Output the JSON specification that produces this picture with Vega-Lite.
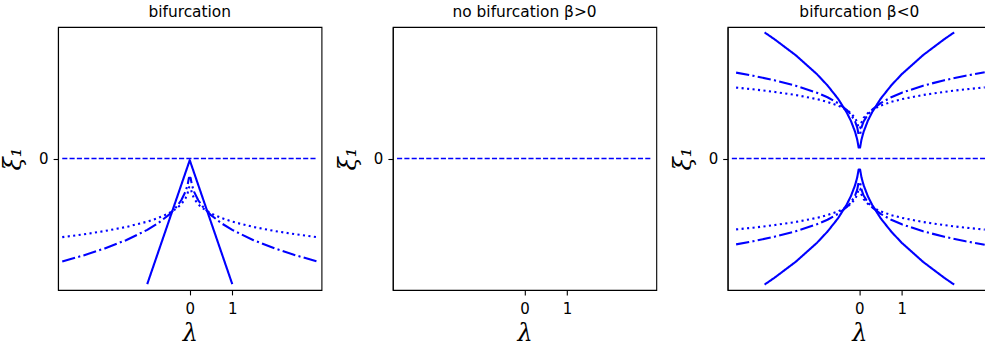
{
  "$schema": "https://vega.github.io/schema/vega-lite/v6.json",
  "background": "white",
  "padding": {"left": 1, "top": 4, "right": 0, "bottom": 4},
  "bounds": "flush",
  "spacing": 70.8,
  "datasets": {
    "zero": [{"x": -3, "y": 0}, {"x": 3, "y": 0}],
    "p1": [
      {"c": "s", "s": "solid", "x": -1, "y": -2.96},
      {"c": "s", "s": "solid", "x": 0, "y": -0.04},
      {"c": "s", "s": "solid", "x": 1, "y": -2.96},
      {"c": "dd", "s": "dashdot", "x": -3, "y": -2.427},
      {"c": "dd", "s": "dashdot", "x": -2.5, "y": -2.284},
      {"c": "dd", "s": "dashdot", "x": -2, "y": -2.12},
      {"c": "dd", "s": "dashdot", "x": -1.5, "y": -1.926},
      {"c": "dd", "s": "dashdot", "x": -1, "y": -1.683},
      {"c": "dd", "s": "dashdot", "x": -0.75, "y": -1.529},
      {"c": "dd", "s": "dashdot", "x": -0.5, "y": -1.336},
      {"c": "dd", "s": "dashdot", "x": -0.3, "y": -1.126},
      {"c": "dd", "s": "dashdot", "x": -0.2, "y": -0.984},
      {"c": "dd", "s": "dashdot", "x": -0.1, "y": -0.781},
      {"c": "dd", "s": "dashdot", "x": -0.05, "y": -0.62},
      {"c": "dd", "s": "dashdot", "x": -0.02, "y": -0.457},
      {"c": "dd", "s": "dashdot", "x": 0.02, "y": -0.457},
      {"c": "dd", "s": "dashdot", "x": 0.05, "y": -0.62},
      {"c": "dd", "s": "dashdot", "x": 0.1, "y": -0.781},
      {"c": "dd", "s": "dashdot", "x": 0.2, "y": -0.984},
      {"c": "dd", "s": "dashdot", "x": 0.3, "y": -1.126},
      {"c": "dd", "s": "dashdot", "x": 0.5, "y": -1.336},
      {"c": "dd", "s": "dashdot", "x": 0.75, "y": -1.529},
      {"c": "dd", "s": "dashdot", "x": 1, "y": -1.683},
      {"c": "dd", "s": "dashdot", "x": 1.5, "y": -1.926},
      {"c": "dd", "s": "dashdot", "x": 2, "y": -2.12},
      {"c": "dd", "s": "dashdot", "x": 2.5, "y": -2.284},
      {"c": "dd", "s": "dashdot", "x": 3, "y": -2.427},
      {"c": "dt", "s": "dotted", "x": -3, "y": -1.854},
      {"c": "dt", "s": "dotted", "x": -2.5, "y": -1.788},
      {"c": "dt", "s": "dotted", "x": -2, "y": -1.71},
      {"c": "dt", "s": "dotted", "x": -1.5, "y": -1.615},
      {"c": "dt", "s": "dotted", "x": -1, "y": -1.489},
      {"c": "dt", "s": "dotted", "x": -0.75, "y": -1.405},
      {"c": "dt", "s": "dotted", "x": -0.5, "y": -1.296},
      {"c": "dt", "s": "dotted", "x": -0.3, "y": -1.17},
      {"c": "dt", "s": "dotted", "x": -0.2, "y": -1.079},
      {"c": "dt", "s": "dotted", "x": -0.1, "y": -0.94},
      {"c": "dt", "s": "dotted", "x": -0.05, "y": -0.818},
      {"c": "dt", "s": "dotted", "x": -0.02, "y": -0.681},
      {"c": "dt", "s": "dotted", "x": 0.02, "y": -0.681},
      {"c": "dt", "s": "dotted", "x": 0.05, "y": -0.818},
      {"c": "dt", "s": "dotted", "x": 0.1, "y": -0.94},
      {"c": "dt", "s": "dotted", "x": 0.2, "y": -1.079},
      {"c": "dt", "s": "dotted", "x": 0.3, "y": -1.17},
      {"c": "dt", "s": "dotted", "x": 0.5, "y": -1.296},
      {"c": "dt", "s": "dotted", "x": 0.75, "y": -1.405},
      {"c": "dt", "s": "dotted", "x": 1, "y": -1.489},
      {"c": "dt", "s": "dotted", "x": 1.5, "y": -1.615},
      {"c": "dt", "s": "dotted", "x": 2, "y": -1.71},
      {"c": "dt", "s": "dotted", "x": 2.5, "y": -1.788},
      {"c": "dt", "s": "dotted", "x": 3, "y": -1.854}
    ],
    "p3": [
      {"c": "su", "s": "solid", "x": -2.23, "y": 2.972},
      {"c": "su", "s": "solid", "x": -2, "y": 2.814},
      {"c": "su", "s": "solid", "x": -1.5, "y": 2.437},
      {"c": "su", "s": "solid", "x": -1, "y": 1.99},
      {"c": "su", "s": "solid", "x": -0.75, "y": 1.723},
      {"c": "su", "s": "solid", "x": -0.5, "y": 1.407},
      {"c": "su", "s": "solid", "x": -0.3, "y": 1.09},
      {"c": "su", "s": "solid", "x": -0.2, "y": 0.89},
      {"c": "su", "s": "solid", "x": -0.1, "y": 0.629},
      {"c": "su", "s": "solid", "x": -0.05, "y": 0.445},
      {"c": "su", "s": "solid", "x": -0.017, "y": 0.26},
      {"c": "su", "s": "solid", "x": 0.017, "y": 0.26},
      {"c": "su", "s": "solid", "x": 0.05, "y": 0.445},
      {"c": "su", "s": "solid", "x": 0.1, "y": 0.629},
      {"c": "su", "s": "solid", "x": 0.2, "y": 0.89},
      {"c": "su", "s": "solid", "x": 0.3, "y": 1.09},
      {"c": "su", "s": "solid", "x": 0.5, "y": 1.407},
      {"c": "su", "s": "solid", "x": 0.75, "y": 1.723},
      {"c": "su", "s": "solid", "x": 1, "y": 1.99},
      {"c": "su", "s": "solid", "x": 1.5, "y": 2.437},
      {"c": "su", "s": "solid", "x": 2, "y": 2.814},
      {"c": "su", "s": "solid", "x": 2.23, "y": 2.972},
      {"c": "sd", "s": "solid", "x": -2.23, "y": -2.972},
      {"c": "sd", "s": "solid", "x": -2, "y": -2.814},
      {"c": "sd", "s": "solid", "x": -1.5, "y": -2.437},
      {"c": "sd", "s": "solid", "x": -1, "y": -1.99},
      {"c": "sd", "s": "solid", "x": -0.75, "y": -1.723},
      {"c": "sd", "s": "solid", "x": -0.5, "y": -1.407},
      {"c": "sd", "s": "solid", "x": -0.3, "y": -1.09},
      {"c": "sd", "s": "solid", "x": -0.2, "y": -0.89},
      {"c": "sd", "s": "solid", "x": -0.1, "y": -0.629},
      {"c": "sd", "s": "solid", "x": -0.05, "y": -0.445},
      {"c": "sd", "s": "solid", "x": -0.017, "y": -0.26},
      {"c": "sd", "s": "solid", "x": 0.017, "y": -0.26},
      {"c": "sd", "s": "solid", "x": 0.05, "y": -0.445},
      {"c": "sd", "s": "solid", "x": 0.1, "y": -0.629},
      {"c": "sd", "s": "solid", "x": 0.2, "y": -0.89},
      {"c": "sd", "s": "solid", "x": 0.3, "y": -1.09},
      {"c": "sd", "s": "solid", "x": 0.5, "y": -1.407},
      {"c": "sd", "s": "solid", "x": 0.75, "y": -1.723},
      {"c": "sd", "s": "solid", "x": 1, "y": -1.99},
      {"c": "sd", "s": "solid", "x": 1.5, "y": -2.437},
      {"c": "sd", "s": "solid", "x": 2, "y": -2.814},
      {"c": "sd", "s": "solid", "x": 2.23, "y": -2.972},
      {"c": "ddu", "s": "dashdot", "x": -2.9, "y": 2.025},
      {"c": "ddu", "s": "dashdot", "x": -2.5, "y": 1.951},
      {"c": "ddu", "s": "dashdot", "x": -2, "y": 1.845},
      {"c": "ddu", "s": "dashdot", "x": -1.5, "y": 1.717},
      {"c": "ddu", "s": "dashdot", "x": -1, "y": 1.552},
      {"c": "ddu", "s": "dashdot", "x": -0.75, "y": 1.444},
      {"c": "ddu", "s": "dashdot", "x": -0.5, "y": 1.305},
      {"c": "ddu", "s": "dashdot", "x": -0.3, "y": 1.148},
      {"c": "ddu", "s": "dashdot", "x": -0.2, "y": 1.038},
      {"c": "ddu", "s": "dashdot", "x": -0.1, "y": 0.872},
      {"c": "ddu", "s": "dashdot", "x": -0.05, "y": 0.734},
      {"c": "ddu", "s": "dashdot", "x": -0.017, "y": 0.56},
      {"c": "ddu", "s": "dashdot", "x": 0.017, "y": 0.56},
      {"c": "ddu", "s": "dashdot", "x": 0.05, "y": 0.734},
      {"c": "ddu", "s": "dashdot", "x": 0.1, "y": 0.872},
      {"c": "ddu", "s": "dashdot", "x": 0.2, "y": 1.038},
      {"c": "ddu", "s": "dashdot", "x": 0.3, "y": 1.148},
      {"c": "ddu", "s": "dashdot", "x": 0.5, "y": 1.305},
      {"c": "ddu", "s": "dashdot", "x": 0.75, "y": 1.444},
      {"c": "ddu", "s": "dashdot", "x": 1, "y": 1.552},
      {"c": "ddu", "s": "dashdot", "x": 1.5, "y": 1.717},
      {"c": "ddu", "s": "dashdot", "x": 2, "y": 1.845},
      {"c": "ddu", "s": "dashdot", "x": 2.5, "y": 1.951},
      {"c": "ddu", "s": "dashdot", "x": 2.95, "y": 2.033},
      {"c": "ddd", "s": "dashdot", "x": -2.9, "y": -2.025},
      {"c": "ddd", "s": "dashdot", "x": -2.5, "y": -1.951},
      {"c": "ddd", "s": "dashdot", "x": -2, "y": -1.845},
      {"c": "ddd", "s": "dashdot", "x": -1.5, "y": -1.717},
      {"c": "ddd", "s": "dashdot", "x": -1, "y": -1.552},
      {"c": "ddd", "s": "dashdot", "x": -0.75, "y": -1.444},
      {"c": "ddd", "s": "dashdot", "x": -0.5, "y": -1.305},
      {"c": "ddd", "s": "dashdot", "x": -0.3, "y": -1.148},
      {"c": "ddd", "s": "dashdot", "x": -0.2, "y": -1.038},
      {"c": "ddd", "s": "dashdot", "x": -0.1, "y": -0.872},
      {"c": "ddd", "s": "dashdot", "x": -0.05, "y": -0.734},
      {"c": "ddd", "s": "dashdot", "x": -0.017, "y": -0.56},
      {"c": "ddd", "s": "dashdot", "x": 0.017, "y": -0.56},
      {"c": "ddd", "s": "dashdot", "x": 0.05, "y": -0.734},
      {"c": "ddd", "s": "dashdot", "x": 0.1, "y": -0.872},
      {"c": "ddd", "s": "dashdot", "x": 0.2, "y": -1.038},
      {"c": "ddd", "s": "dashdot", "x": 0.3, "y": -1.148},
      {"c": "ddd", "s": "dashdot", "x": 0.5, "y": -1.305},
      {"c": "ddd", "s": "dashdot", "x": 0.75, "y": -1.444},
      {"c": "ddd", "s": "dashdot", "x": 1, "y": -1.552},
      {"c": "ddd", "s": "dashdot", "x": 1.5, "y": -1.717},
      {"c": "ddd", "s": "dashdot", "x": 2, "y": -1.845},
      {"c": "ddd", "s": "dashdot", "x": 2.5, "y": -1.951},
      {"c": "ddd", "s": "dashdot", "x": 2.95, "y": -2.033},
      {"c": "dtu", "s": "dotted", "x": -2.9, "y": 1.671},
      {"c": "dtu", "s": "dotted", "x": -2.5, "y": 1.631},
      {"c": "dtu", "s": "dotted", "x": -2, "y": 1.571},
      {"c": "dtu", "s": "dotted", "x": -1.5, "y": 1.497},
      {"c": "dtu", "s": "dotted", "x": -1, "y": 1.4},
      {"c": "dtu", "s": "dotted", "x": -0.75, "y": 1.334},
      {"c": "dtu", "s": "dotted", "x": -0.5, "y": 1.247},
      {"c": "dtu", "s": "dotted", "x": -0.3, "y": 1.145},
      {"c": "dtu", "s": "dotted", "x": -0.2, "y": 1.07},
      {"c": "dtu", "s": "dotted", "x": -0.1, "y": 0.954},
      {"c": "dtu", "s": "dotted", "x": -0.05, "y": 0.85},
      {"c": "dtu", "s": "dotted", "x": -0.017, "y": 0.71},
      {"c": "dtu", "s": "dotted", "x": 0.017, "y": 0.71},
      {"c": "dtu", "s": "dotted", "x": 0.05, "y": 0.85},
      {"c": "dtu", "s": "dotted", "x": 0.1, "y": 0.954},
      {"c": "dtu", "s": "dotted", "x": 0.2, "y": 1.07},
      {"c": "dtu", "s": "dotted", "x": 0.3, "y": 1.145},
      {"c": "dtu", "s": "dotted", "x": 0.5, "y": 1.247},
      {"c": "dtu", "s": "dotted", "x": 0.75, "y": 1.334},
      {"c": "dtu", "s": "dotted", "x": 1, "y": 1.4},
      {"c": "dtu", "s": "dotted", "x": 1.5, "y": 1.497},
      {"c": "dtu", "s": "dotted", "x": 2, "y": 1.571},
      {"c": "dtu", "s": "dotted", "x": 2.5, "y": 1.631},
      {"c": "dtu", "s": "dotted", "x": 2.95, "y": 1.676},
      {"c": "dtd", "s": "dotted", "x": -2.9, "y": -1.671},
      {"c": "dtd", "s": "dotted", "x": -2.5, "y": -1.631},
      {"c": "dtd", "s": "dotted", "x": -2, "y": -1.571},
      {"c": "dtd", "s": "dotted", "x": -1.5, "y": -1.497},
      {"c": "dtd", "s": "dotted", "x": -1, "y": -1.4},
      {"c": "dtd", "s": "dotted", "x": -0.75, "y": -1.334},
      {"c": "dtd", "s": "dotted", "x": -0.5, "y": -1.247},
      {"c": "dtd", "s": "dotted", "x": -0.3, "y": -1.145},
      {"c": "dtd", "s": "dotted", "x": -0.2, "y": -1.07},
      {"c": "dtd", "s": "dotted", "x": -0.1, "y": -0.954},
      {"c": "dtd", "s": "dotted", "x": -0.05, "y": -0.85},
      {"c": "dtd", "s": "dotted", "x": -0.017, "y": -0.71},
      {"c": "dtd", "s": "dotted", "x": 0.017, "y": -0.71},
      {"c": "dtd", "s": "dotted", "x": 0.05, "y": -0.85},
      {"c": "dtd", "s": "dotted", "x": 0.1, "y": -0.954},
      {"c": "dtd", "s": "dotted", "x": 0.2, "y": -1.07},
      {"c": "dtd", "s": "dotted", "x": 0.3, "y": -1.145},
      {"c": "dtd", "s": "dotted", "x": 0.5, "y": -1.247},
      {"c": "dtd", "s": "dotted", "x": 0.75, "y": -1.334},
      {"c": "dtd", "s": "dotted", "x": 1, "y": -1.4},
      {"c": "dtd", "s": "dotted", "x": 1.5, "y": -1.497},
      {"c": "dtd", "s": "dotted", "x": 2, "y": -1.571},
      {"c": "dtd", "s": "dotted", "x": 2.5, "y": -1.631},
      {"c": "dtd", "s": "dotted", "x": 2.95, "y": -1.676}
    ]
  },
  "hconcat": [
    {
      "title": "bifurcation",
      "width": 263.5,
      "height": 263,
      "layer": [
        {
          "data": {"name": "zero"},
          "mark": {"type": "line", "color": "#0000ff", "strokeWidth": 1.4, "strokeDash": [5.1, 2.2], "strokeCap": "butt"},
          "encoding": {
            "x": {"field": "x", "type": "quantitative", "scale": {"domain": [-3.1, 3.1], "nice": false, "zero": false}, "axis": {"values": [0, 1], "format": "d", "title": "λ", "titlePadding": 5, "labelPadding": 6.5}},
            "y": {"field": "y", "type": "quantitative", "scale": {"domain": [-3.1, 3.1], "nice": false, "zero": false}, "axis": {"values": [0], "format": "d", "title": "ξ₁", "titlePadding": 13}}
          }
        },
        {
          "data": {"name": "p1"},
          "mark": {"type": "line", "color": "#0000ff", "strokeWidth": 2.1, "strokeCap": "butt", "strokeJoin": "round"},
          "encoding": {
            "x": {"field": "x", "type": "quantitative"},
            "y": {"field": "y", "type": "quantitative"},
            "detail": {"field": "c", "type": "nominal"},
            "strokeDash": {"field": "s", "type": "nominal", "legend": null, "scale": {"domain": ["solid", "dashdot", "dotted"], "range": [[1, 0], [13.3, 3.3, 2.1, 3.3], [2.1, 3.4]]}}
          }
        }
      ]
    },
    {
      "title": "no bifurcation β>0",
      "width": 263.5,
      "height": 263,
      "data": {"name": "zero"},
      "mark": {"type": "line", "color": "#0000ff", "strokeWidth": 1.4, "strokeDash": [5.1, 2.2], "strokeCap": "butt"},
      "encoding": {
        "x": {"field": "x", "type": "quantitative", "scale": {"domain": [-3.1, 3.1], "nice": false, "zero": false}, "axis": {"values": [0, 1], "format": "d", "title": "λ", "titlePadding": 5, "labelPadding": 6.5}},
        "y": {"field": "y", "type": "quantitative", "scale": {"domain": [-3.1, 3.1], "nice": false, "zero": false}, "axis": {"values": [0], "format": "d", "title": "ξ₁", "titlePadding": 13}}
      }
    },
    {
      "title": "bifurcation β<0",
      "width": 263.5,
      "height": 263,
      "layer": [
        {
          "data": {"name": "zero"},
          "mark": {"type": "line", "color": "#0000ff", "strokeWidth": 1.4, "strokeDash": [5.1, 2.2], "strokeCap": "butt"},
          "encoding": {
            "x": {"field": "x", "type": "quantitative", "scale": {"domain": [-3.1, 3.1], "nice": false, "zero": false}, "axis": {"values": [0, 1], "format": "d", "title": "λ", "titlePadding": 5, "labelPadding": 6.5}},
            "y": {"field": "y", "type": "quantitative", "scale": {"domain": [-3.1, 3.1], "nice": false, "zero": false}, "axis": {"values": [0], "format": "d", "title": "ξ₁", "titlePadding": 13}}
          }
        },
        {
          "data": {"name": "p3"},
          "mark": {"type": "line", "color": "#0000ff", "strokeWidth": 2.1, "strokeCap": "butt", "strokeJoin": "round"},
          "encoding": {
            "x": {"field": "x", "type": "quantitative"},
            "y": {"field": "y", "type": "quantitative"},
            "detail": {"field": "c", "type": "nominal"},
            "strokeDash": {"field": "s", "type": "nominal", "legend": null, "scale": {"domain": ["solid", "dashdot", "dotted"], "range": [[1, 0], [13.3, 3.3, 2.1, 3.3], [2.1, 3.4]]}}
          }
        }
      ]
    }
  ],
  "config": {
    "view": {"stroke": "black", "strokeWidth": 1.1},
    "axis": {
      "grid": false,
      "domainColor": "black",
      "domainWidth": 1.1,
      "tickColor": "black",
      "tickWidth": 1.1,
      "tickSize": 4.9,
      "labelFont": "DejaVu Sans",
      "labelFontSize": 15,
      "labelColor": "black",
      "labelPadding": 5,
      "titleFont": "DejaVu Serif",
      "titleFontStyle": "italic",
      "titleFontWeight": "normal",
      "titleFontSize": 24,
      "titleColor": "black"
    },
    "title": {"font": "DejaVu Sans", "fontSize": 15.4, "fontWeight": "normal", "color": "black", "offset": 7}
  }
}
